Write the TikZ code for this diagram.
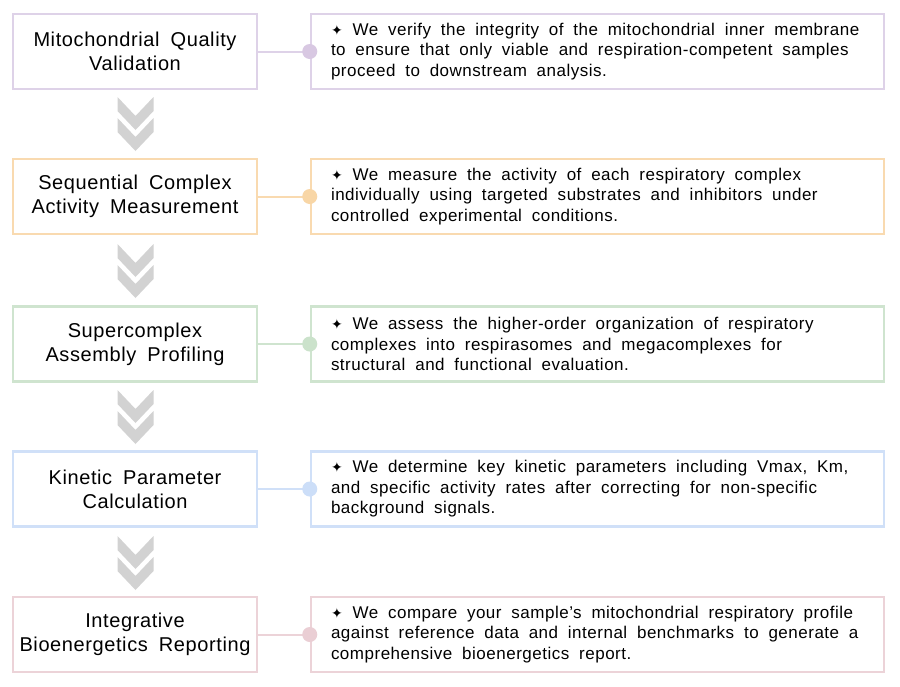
\documentclass[tikz,border=0pt]{standalone}
\usepackage{fontspec}
\setmainfont{Liberation Sans}[LetterSpace=3]
\newfontfamily\symfont{DejaVu Sans}
\definecolor{bpur}{RGB}{222,210,232}
\definecolor{cpur}{RGB}{216,200,226}
\definecolor{bora}{RGB}{249,218,176}
\definecolor{cora}{RGB}{248,214,166}
\definecolor{bgre}{RGB}{207,228,207}
\definecolor{cgre}{RGB}{203,226,203}
\definecolor{bblu}{RGB}{208,224,248}
\definecolor{cblu}{RGB}{204,222,248}
\definecolor{bpin}{RGB}{236,211,216}
\definecolor{cpin}{RGB}{234,206,212}
\definecolor{chevgray}{RGB}{210,210,210}
\newcommand\ttlfont{\fontsize{20pt}{24pt}\selectfont\spaceskip=11pt plus 2pt minus 1pt}
\newcommand\dscfont{\fontsize{17pt}{20.5pt}\selectfont}
\newcommand\dscspace{\spaceskip=9.8pt plus 2pt minus 1pt\xspaceskip=9.8pt plus 2pt minus 1pt}
\newcommand\dia{{\symfont\fontsize{14pt}{14pt}\selectfont ✦}}
\begin{document}
\begin{tikzpicture}[x=1pt,y=-1pt,
  lbox/.style={draw=#1, line width=2.5pt, fill=white, minimum width=244pt, minimum height=75pt, inner sep=0pt, align=center, font=\ttlfont, text=black},
  rbox/.style={draw=#1, line width=2.5pt, fill=white, minimum width=573pt, minimum height=75pt, inner xsep=20pt, inner ysep=0pt, text width=533pt, align=left, font=\dscfont, text=black, execute at begin node=\dscspace},
  conn/.style={draw=#1, line width=2pt},
  dot/.style={circle, fill=#1, minimum size=15pt, inner sep=0pt},
  chevs/.pic={
    \fill[chevgray] (-18,0) -- (0,19) -- (18,0) -- (18,14) -- (0,33) -- (-18,14) -- cycle;
    \fill[chevgray] (-18,21) -- (0,40) -- (18,21) -- (18,35) -- (0,54) -- (-18,35) -- cycle;
  }]
\useasboundingbox (0,0) rectangle (900,686);
\fill[white] (0,0) rectangle (900,686);

\node[lbox=bpur] (l1) at (135,51.5) {Mitochondrial Quality\\Validation};
\node[rbox=bpur] (r1) at (597.5,51.5) {\dia\ We verify the integrity of the mitochondrial inner membrane\\to ensure that only viable and respiration-competent samples\\proceed to downstream analysis.};
\draw[conn=bpur] (l1.east) -- (r1.west);
\node[dot=cpur] (c1) at (r1.west) {};

\node[lbox=bora] (l2) at (135,196.5) {Sequential Complex\\Activity Measurement};
\node[rbox=bora] (r2) at (597.5,196.5) {\dia\ We measure the activity of each respiratory complex\\individually using targeted substrates and inhibitors under\\controlled experimental conditions.};
\draw[conn=bora] (l2.east) -- (r2.west);
\node[dot=cora] (c2) at (r2.west) {};

\node[lbox=bgre] (l3) at (135,344) {Supercomplex\\Assembly Profiling};
\node[rbox=bgre] (r3) at (597.5,344) {\dia\ We assess the higher-order organization of respiratory\\complexes into respirasomes and megacomplexes for\\structural and functional evaluation.};
\draw[conn=bgre] (l3.east) -- (r3.west);
\node[dot=cgre] (c3) at (r3.west) {};

\node[lbox=bblu] (l4) at (135,489) {Kinetic Parameter\\Calculation};
\node[rbox=bblu] (r4) at (597.5,489) {\dia\ We determine key kinetic parameters including Vmax, Km,\\and specific activity rates after correcting for non-specific\\background signals.};
\draw[conn=bblu] (l4.east) -- (r4.west);
\node[dot=cblu] (c4) at (r4.west) {};

\node[lbox=bpin] (l5) at (135,634.5) {Integrative\\Bioenergetics Reporting};
\node[rbox=bpin] (r5) at (597.5,634.5) {\dia\ We compare your sample's mitochondrial respiratory profile\\against reference data and internal benchmarks to generate a\\comprehensive bioenergetics report.};
\draw[conn=bpin] (l5.east) -- (r5.west);
\node[dot=cpin] (c5) at (r5.west) {};

\pic at (135.5,97) {chevs};
\pic at (135.5,244) {chevs};
\pic at (135.5,390) {chevs};
\pic at (135.5,536) {chevs};
\end{tikzpicture}
\end{document}
